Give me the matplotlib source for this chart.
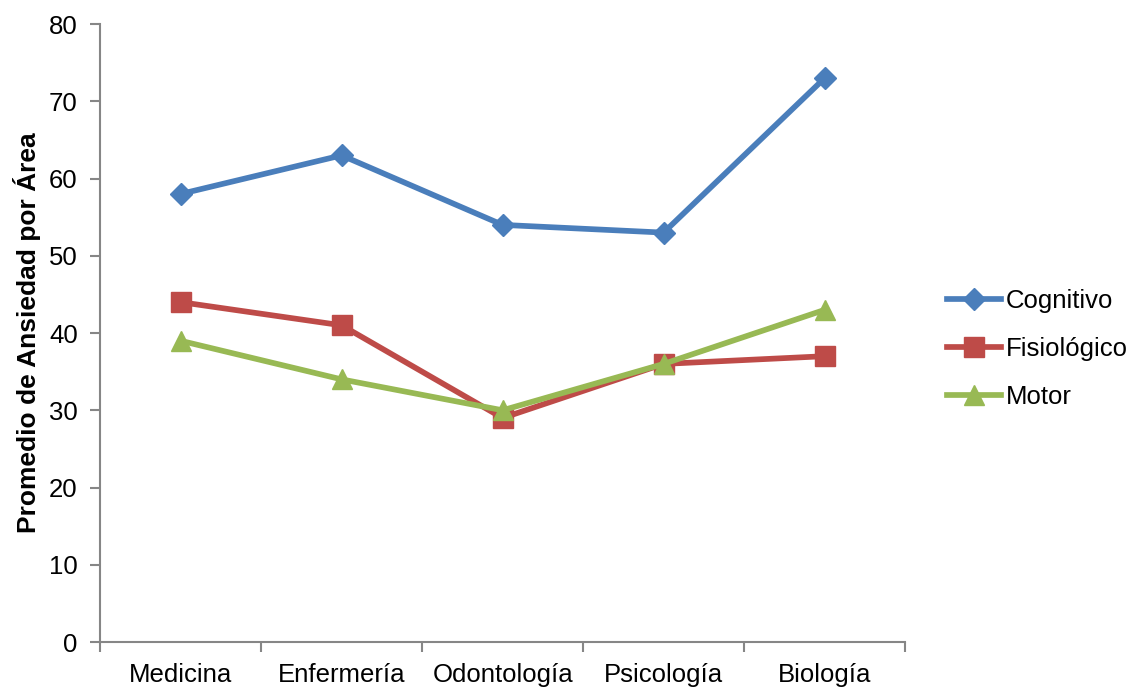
import matplotlib
matplotlib.use("Agg")
import matplotlib.pyplot as plt

plt.rcParams['font.family'] = ['Liberation Sans', 'DejaVu Sans']

# Áreas y promedios por dimensión
areas = ['Medicina', 'Enfermería', 'Odontología', 'Psicología', 'Biología']
cognitivo = [58, 63, 54, 53, 73]
fisiologico = [44, 41, 29, 36, 37]
motor = [39, 34, 30, 36, 43]

AZUL = '#4A7EBB'
ROJO = '#BE4B48'
VERDE = '#98B954'
GRIS = '#868686'

fig = plt.figure(figsize=(11.34, 6.87), dpi=100)
ax = fig.add_axes([0.0882, 0.0655, 0.7100, 0.8995])

x = list(range(len(areas)))
ax.plot(x, cognitivo, color=AZUL, lw=4.1, marker='D', ms=11.5, label='Cognitivo')
ax.plot(x, fisiologico, color=ROJO, lw=4.1, marker='s', ms=15, label='Fisiológico')
ax.plot(x, motor, color=VERDE, lw=4.1, marker='^', ms=15, label='Motor')

ax.set_xlim(-0.5, len(areas) - 0.5)
ax.set_ylim(0, 80)
ax.set_yticks(range(0, 81, 10))

# categorías centradas, marcas de eje en los límites
ax.set_xticks([i - 0.5 for i in range(len(areas) + 1)])
ax.set_xticklabels([])
ax.set_xticks(x, minor=True)
ax.set_xticklabels(areas, minor=True)
ax.tick_params(axis='x', which='minor', length=0, pad=15, labelsize=18.5, colors='black')
ax.tick_params(axis='x', which='major', length=7, width=1.5, color=GRIS)
ax.tick_params(axis='y', length=7, width=1.5, color=GRIS, labelsize=18.5, pad=9)

for s in ['top', 'right']:
    ax.spines[s].set_visible(False)
for s in ['left', 'bottom']:
    ax.spines[s].set_color(GRIS)
    ax.spines[s].set_linewidth(1.5)

ax.set_ylabel('Promedio de Ansiedad por Área', fontsize=19, fontweight='bold', labelpad=6)

ax.legend(loc='upper left', bbox_to_anchor=(1.052, 0.572), frameon=False,
          borderpad=0, borderaxespad=0, fontsize=18.5, handlelength=2.1,
          handletextpad=0.2, labelspacing=0.95)

fig.savefig('out.png', dpi=100)
